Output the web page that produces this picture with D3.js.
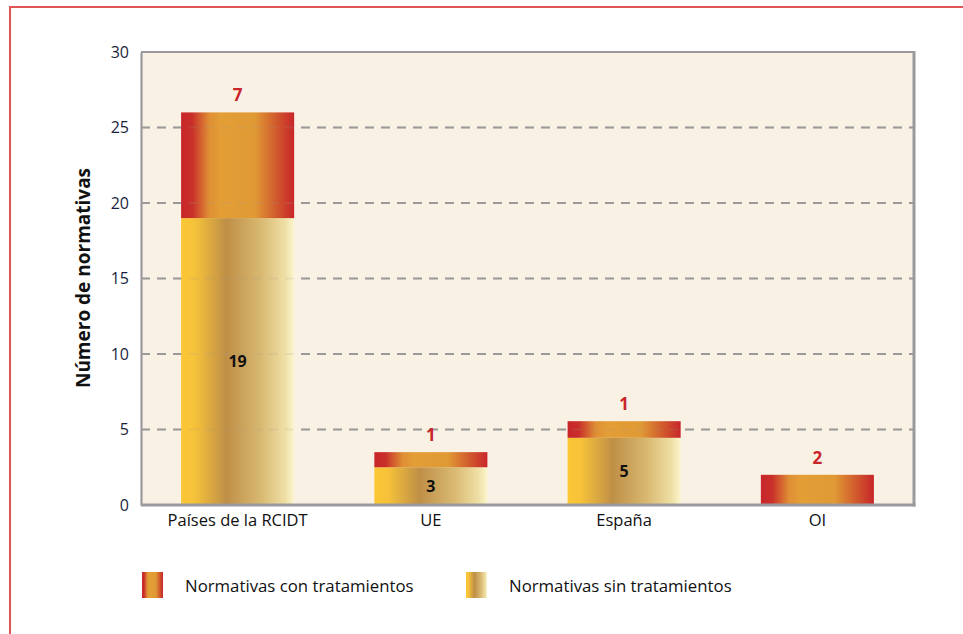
<!DOCTYPE html>
<html><head><meta charset="utf-8">
<script src="https://cdn.jsdelivr.net/npm/d3@7"></script>
<style>
html,body{margin:0;padding:0;background:#fff;}
svg{display:block;font-family:"Open Sans",Lato,sans-serif;}
</style></head>
<body>
<svg id="chart" width="963" height="634"></svg>
<script>
const categories = ["Países de la RCIDT", "UE", "España", "OI"];
// bar heights as drawn in the picture
const sinValues = [19, 2.5, 4.45, 0];
const conValues = [7, 1, 1.1, 2];
// labels printed on the bars
const sinLabels = ["19", "3", "5", ""];
const conLabels = ["7", "1", "1", "2"];
const yTicks = [0, 5, 10, 15, 20, 25, 30];
const legendLabels = ["Normativas con tratamientos", "Normativas sin tratamientos"];

const FONT = "'Open Sans',Lato,sans-serif";
const svg = d3.select("#chart");
const defs = svg.append("defs");

const gCon = defs.append("linearGradient").attr("id","gradCon").attr("x1","0").attr("x2","1").attr("y1","0").attr("y2","0");
[[0,"#c8262a"],[0.1,"#c9302a"],[0.25,"#df8f34"],[0.35,"#e39e36"],[0.65,"#e09a35"],[0.85,"#d0572c"],[1,"#c8262a"]]
  .forEach(([o,c])=>gCon.append("stop").attr("offset",o).attr("stop-color",c));
const gSin = defs.append("linearGradient").attr("id","gradSin").attr("x1","0").attr("x2","1").attr("y1","0").attr("y2","0");
[[0,"#fbc735"],[0.12,"#f6c23a"],[0.4,"#bf8f47"],[0.7,"#d8b870"],[0.92,"#efdfa5"],[1,"#fbf5cf"]]
  .forEach(([o,c])=>gSin.append("stop").attr("offset",o).attr("stop-color",c));

// red frame
svg.append("line").attr("x1",10).attr("x2",963).attr("y1",7).attr("y2",7).attr("stroke","#e05555").attr("stroke-width",2);
svg.append("line").attr("x1",10).attr("x2",10).attr("y1",6).attr("y2",634).attr("stroke","#e05555").attr("stroke-width",2);

const L = 141, R = 914, T = 52, B = 505;
const x = d3.scaleBand().domain(categories).range([L, R]).paddingInner(0.415).paddingOuter(0.2075);
const y = d3.scaleLinear().domain([0, 30]).range([B, T]);

// plot background
svg.append("rect").attr("x",L).attr("y",T).attr("width",R-L).attr("height",B-T).attr("fill","#faf1e5");

// grid
const gridVals = yTicks.filter(d=>d>0 && d<30);
svg.append("g").selectAll("line").data(gridVals).join("line")
  .attr("x1",L).attr("x2",R).attr("y1",d=>y(d)).attr("y2",d=>y(d))
  .attr("stroke","#9a9a9a").attr("stroke-width",2.2).attr("stroke-dasharray","9,7");

// bars
const bars = svg.append("g");
bars.selectAll("rect.sin").data(categories).join("rect").attr("class","sin")
  .attr("x",d=>x(d)).attr("width",x.bandwidth())
  .attr("y",(d,i)=>y(sinValues[i])).attr("height",(d,i)=>y(0)-y(sinValues[i]))
  .attr("fill","url(#gradSin)");
bars.selectAll("rect.con").data(categories).join("rect").attr("class","con")
  .attr("x",d=>x(d)).attr("width",x.bandwidth())
  .attr("y",(d,i)=>y(sinValues[i]+conValues[i])).attr("height",(d,i)=>y(sinValues[i])-y(sinValues[i]+conValues[i]))
  .attr("fill","url(#gradCon)");

// faint grid showing through
svg.append("g").selectAll("line").data(gridVals).join("line")
  .attr("x1",L).attr("x2",R).attr("y1",d=>y(d)).attr("y2",d=>y(d))
  .attr("stroke","#9a9a9a").attr("stroke-opacity",0.15).attr("stroke-width",2).attr("stroke-dasharray","9,7");

// frame
svg.append("line").attr("x1",L).attr("x2",R).attr("y1",T).attr("y2",T).attr("stroke","#9a9a9e").attr("stroke-width",2);
svg.append("line").attr("x1",R).attr("x2",R).attr("y1",T-1).attr("y2",B+1.5).attr("stroke","#9a9a9e").attr("stroke-width",3);
svg.append("line").attr("x1",L).attr("x2",R+1.5).attr("y1",B).attr("y2",B).attr("stroke","#9a9a9e").attr("stroke-width",3);

// y axis
const yAxis = svg.append("g").attr("transform",`translate(${L},0)`)
  .call(d3.axisLeft(y).tickValues(yTicks).tickSize(0).tickPadding(12));
yAxis.select(".domain").attr("stroke","#9a9a9e").attr("stroke-width",2.2);
yAxis.selectAll("text").attr("font-size",16).attr("fill","#1b1f3d").attr("font-family",FONT);

// x axis labels
const xAxis = svg.append("g").attr("transform",`translate(0,${B})`)
  .call(d3.axisBottom(x).tickSize(0).tickPadding(9));
xAxis.select(".domain").remove();
xAxis.selectAll("text").attr("font-size",16.5).attr("fill","#111").attr("font-family",FONT);

// labels
svg.append("g").selectAll("text").data(categories).join("text")
  .attr("x",d=>x(d)+x.bandwidth()/2)
  .attr("y",(d,i)=>y(sinValues[i]+conValues[i])-11)
  .attr("text-anchor","middle").attr("font-size",17).attr("font-weight","bold").attr("fill","#c8262a")
  .text((d,i)=>conLabels[i]);
svg.append("g").selectAll("text").data(categories).join("text")
  .attr("x",d=>x(d)+x.bandwidth()/2)
  .attr("y",(d,i)=>(y(sinValues[i])+y(0))/2)
  .attr("dy","0.35em")
  .attr("text-anchor","middle").attr("font-size",16).attr("font-weight","bold").attr("fill","#111")
  .text((d,i)=>sinLabels[i]);

// y title
svg.append("text").attr("transform","translate(90,278) rotate(-90)")
  .attr("text-anchor","middle").attr("font-size",19).attr("font-weight","bold").attr("fill","#111")
  .text("Número de normativas");

// legend
const leg = svg.append("g");
const legItems = [{fill:"url(#gradCon)", x:142, label:legendLabels[0]}, {fill:"url(#gradSin)", x:466, label:legendLabels[1]}];
leg.selectAll("rect").data(legItems).join("rect")
  .attr("x",d=>d.x).attr("y",572).attr("width",21).attr("height",26).attr("fill",d=>d.fill);
leg.selectAll("text").data(legItems).join("text")
  .attr("x",d=>d.x+43).attr("y",586).attr("dy","0.35em")
  .attr("font-size",16.8).attr("fill","#111").text(d=>d.label);
</script>
</body></html>
